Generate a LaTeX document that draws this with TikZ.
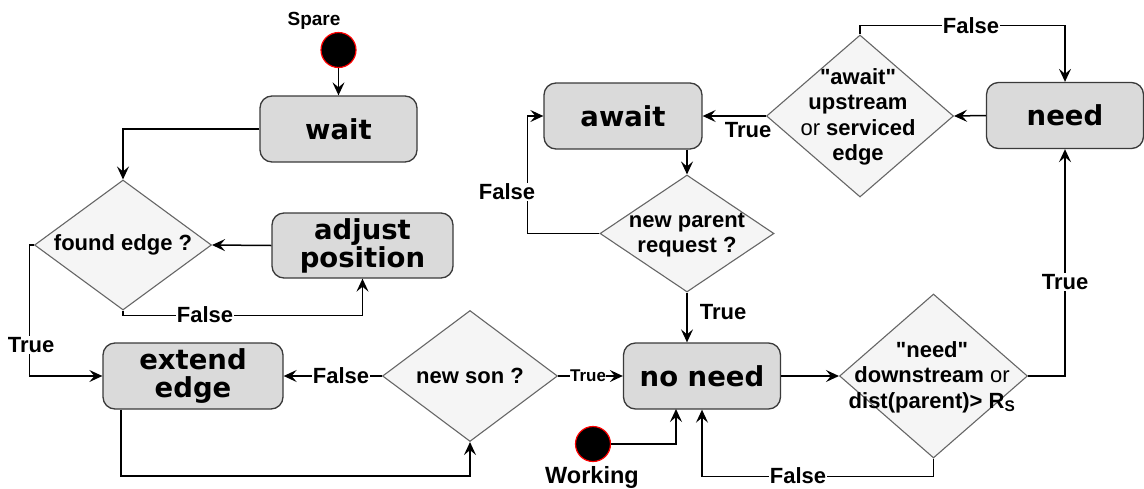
\documentclass[tikz,border=0pt]{standalone}
\usepackage{fontspec}
\newfontfamily\labfont{Liberation Sans}
\newfontfamily\boxfont{DejaVu Sans}
\usetikzlibrary{arrows.meta,shapes.geometric,calc}
\definecolor{boxfill}{HTML}{DADADA}
\definecolor{boxline}{HTML}{3A3A3A}
\definecolor{diafill}{HTML}{F5F5F5}
\definecolor{dialine}{HTML}{666666}
\begin{document}
\begin{tikzpicture}[x=1pt,y=-1pt,
 state/.style={draw=boxline, fill=boxfill, line width=1.3pt, rounded corners=12pt, minimum width=157pt, minimum height=66pt, inner sep=0pt, align=center, font=\boxfont\bfseries\fontsize{27.5}{28}\selectfont},
 dia/.style={diamond, draw=dialine, fill=diafill, line width=1.1pt, inner sep=0pt},
 dtext/.style={align=center, font=\labfont\bfseries\fontsize{22}{25.5}\selectfont, inner sep=0pt},
 lbl/.style={font=\labfont\bfseries\fontsize{22}{24}\selectfont, fill=white, inner sep=1pt},
 conn/.style={draw=black, line width=1.5pt, -{Stealth[length=13pt,width=12pt,inset=5pt]}},
 start/.style={circle, fill=black, draw=red, line width=1.2pt, minimum size=35pt, inner sep=0pt},
]
\useasboundingbox (0,0) rectangle (1144,488);

% nodes
\node[start] (spare) at (338.5,50) {};
\node[font=\labfont\bfseries\fontsize{19}{20}\selectfont, inner sep=0pt] (sparel) at (314,21) {Spare};
\node[state] (wait) at (338.5,129) {wait};
\node[dia, minimum width=177pt, minimum height=130pt] (fe) at (123,245) {};
\node[dtext] (fet) at (123,245) {found edge ?};
\node[state, minimum width=181pt, minimum height=65pt] (adj) at (362.5,245.5) {adjust\\position};
\node[state, minimum width=180pt] (ext) at (193,376) {extend\\edge};
\node[dia, minimum width=175pt, minimum height=131pt] (ns) at (470,376) {};
\node[dtext] (nst) at (470,376) {new son ?};
\node[state] (nn) at (702,376) {no need};
\node[start] (wk) at (593,444) {};
\node[font=\labfont\bfseries\fontsize{23.5}{24}\selectfont, inner sep=0pt] (wkl) at (592,477) {Working};
\node[dia, minimum width=188pt, minimum height=164pt] (nd) at (933.5,376) {};
\node[dtext] (ndt) at (932,377) {"need"\\downstream {\mdseries or}\\dist(parent)> R\textsubscript{S}};
\node[state] (need) at (1065,115.5) {need};
\node[dia, minimum width=187pt, minimum height=162pt] (ad) at (860,116) {};
\node[dtext] (adt) at (858,117) {"await"\\upstream\\{\mdseries or} serviced\\edge};
\node[state, minimum width=158pt] (aw) at (623,116) {await};
\node[dia, minimum width=174pt, minimum height=117pt] (np) at (687,233.5) {};
\node[dtext] (npt) at (687,235) {new parent\\request ?};

% connectors
\draw[conn] (spare) -- (wait);
\draw[conn] (wait.west) -| (fe.north);
\draw[conn] (adj.west) -- (fe.east);
\draw[conn] (fe.south) -- ++(0,5) -| (adj.south);
\draw[conn] (fe.west) -- ++(-4.5,0) |- (ext.west);
\draw[conn] (ns.west) -- (ext.east);
\coordinate (c1) at (121,476);
\draw[conn] (ext.south -| c1) -- (c1) -| (ns.south);
\draw[conn] (ns.east) -- (nn.west);
\draw[conn] (np.south) -- (np.south |- nn.north);
\coordinate (c2) at (676,409);
\draw[conn] (wk.east) -| (c2);
\draw[conn] (nd.south) -- ++(0,18) -| (nn.south);
\draw[conn] (nn.east) -- (nd.west);
\draw[conn] (nd.east) -| (need.south);
\draw[conn] (need.west) -- (ad.east);
\draw[conn] (ad.west) -- (aw.east);
\draw[conn] (ad.north) -- ++(0,-9) -| (need.north);
\draw[conn] (np.north |- aw.south) -- (np.north);
\draw[conn] (np.west) -- ++(-72,0) |- (aw.west);

% labels
\node[lbl] (l1) at (205,315) {False};
\node[lbl] (l2) at (31,345) {True};
\node[lbl] (l3) at (341,376) {False};
\node[lbl, font=\labfont\bfseries\fontsize{17}{18}\selectfont, inner sep=0.5pt] (l4) at (588,376) {True};
\node[lbl, fill=none] (l5) at (723,312) {True};
\node[lbl] (l6) at (798,476) {False};
\node[lbl] (l7) at (1065,282) {True};
\node[lbl, fill=none] (l8) at (748,130) {True};
\node[lbl] (l9) at (971,26) {False};
\node[lbl] (l10) at (507,192) {False};
\end{tikzpicture}
\end{document}
